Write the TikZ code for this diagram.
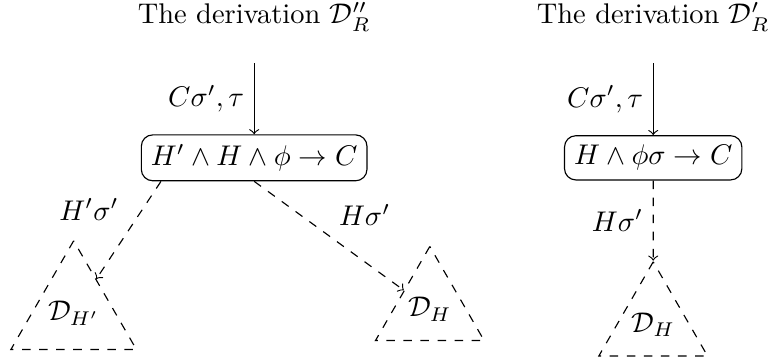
\documentclass[tikz,border=0pt]{standalone}
\usepackage{amssymb}
\usetikzlibrary{shapes.geometric}

\begin{document}
\begin{tikzpicture}[
    clause/.style={draw, rounded corners},
    subder/.style={draw, dashed, regular polygon, regular polygon sides=3, inner sep=0pt, minimum size=#1},
    subder/.default=1.55cm,
    edge/.style={->, dashed}
]
    \useasboundingbox (-3.14,-2.53) rectangle (6.41,1.95);
    % D''_R
    \node (titleL) at (0,1.74) {The derivation $\mathcal{D}''_R$};
    \node[clause] (clauseL) at (0,0) {$H' \wedge H \wedge \phi \to C$};
    \coordinate (topL) at (0,1.17);
    \draw[->] (topL) -- node[left] {$C\sigma', \tau$} (clauseL);
    \node[subder=1.75cm] (subHp) at (-2.23,-1.92) {$\mathcal{D}_{H'}$};
    \node[subder] (subHL) at (2.17,-1.87) {$\mathcal{D}_H$};
    \coordinate (startL) at ([xshift=0.25cm]clauseL.south west);
    \draw[edge] (startL) -- node[above left] {$H'\sigma'$} (subHp);
    \draw[edge] (clauseL.south) -- node[above right] {$H\sigma'$} (subHL);
    % D'_R
    \node (titleR) at (4.93,1.74) {The derivation $\mathcal{D}'_R$};
    \node[clause] (clauseR) at (4.93,0) {$H \wedge \phi\sigma \to C$};
    \coordinate (topR) at (4.93,1.17);
    \draw[->] (topR) -- node[left] {$C\sigma', \tau$} (clauseR);
    \node[subder] (subHR) at (4.93,-2.06) {$\mathcal{D}_H$};
    \draw[edge] (clauseR) -- node[left] {$H\sigma'$} (subHR);
\end{tikzpicture}
\end{document}
